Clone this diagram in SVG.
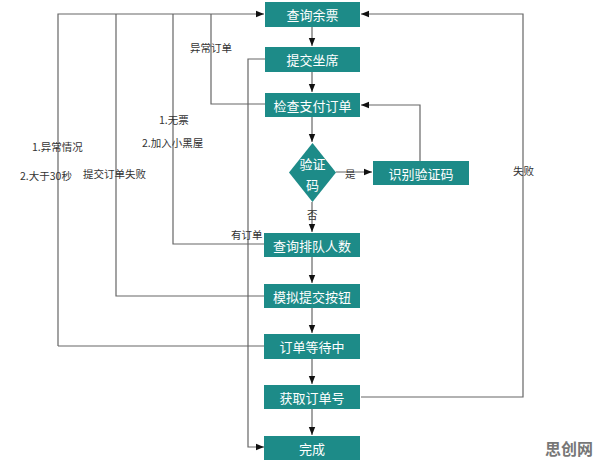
<svg xmlns="http://www.w3.org/2000/svg" width="596" height="467" viewBox="0 0 596 467">
<style>
.n{fill:#1d8b88}
.t{fill:#fff;font-family:"Noto Sans CJK SC","Noto Sans",sans-serif;font-size:13px;text-anchor:middle;dominant-baseline:central}
.l{fill:#333;font-family:"Noto Sans CJK SC","Noto Sans",sans-serif;font-size:10.5px;dominant-baseline:central}
.c{fill:none;stroke:#666;stroke-width:1.2}
</style>
<defs>
<marker id="a" viewBox="0 0 10 10" refX="10" refY="5" markerWidth="8" markerHeight="8" markerUnits="userSpaceOnUse" orient="auto">
<path d="M0,1 L10,5 L0,9 Z" fill="#111"/>
</marker>
</defs>
<rect width="596" height="467" fill="#fff"/>
<g id="connectors">
<path class="c" d="M58,346 V14 H264" marker-end="url(#a)"/>
<path class="c" d="M264,346 H58"/>
<path class="c" d="M264,296 H116 V14"/>
<path class="c" d="M264,244 H173 V14"/>
<path class="c" d="M265,104 H211 V14"/>
<path class="c" d="M265,59 H248 V447 H264" marker-end="url(#a)"/>
<path class="c" d="M361,397 H523 V14 H361" marker-end="url(#a)"/>
<path class="c" d="M420,161 V105 H361" marker-end="url(#a)"/>
<path class="c" d="M336,172 H372" marker-end="url(#a)"/>
<path class="c" d="M312,27 V46" marker-end="url(#a)"/>
<path class="c" d="M312,72 V92" marker-end="url(#a)"/>
<path class="c" d="M312,117 V142" marker-end="url(#a)"/>
<path class="c" d="M312,202 V232" marker-end="url(#a)"/>
<path class="c" d="M312,257 V283" marker-end="url(#a)"/>
<path class="c" d="M312,308 V333" marker-end="url(#a)"/>
<path class="c" d="M312,359 V384" marker-end="url(#a)"/>
<path class="c" d="M312,409 V435" marker-end="url(#a)"/>
<text class="l" x="190" y="47">异常订单</text>
<text class="l" x="159" y="119">1.无票</text>
<text class="l" x="142" y="142">2.加入小黑屋</text>
<text class="l" x="32" y="146">1.异常情况</text>
<text class="l" x="20" y="175">2.大于30秒</text>
<text class="l" x="83" y="173">提交订单失败</text>
<text class="l" x="231" y="234">有订单</text>
<text class="l" x="513" y="170">失败</text>
<text class="l" x="345" y="173">是</text>
<text class="l" x="307" y="214">否</text>
</g>
<g id="n1"><rect class="n" x="265" y="2" width="95" height="25"/><text class="t" x="312.5" y="14.5">查询余票</text></g>
<g id="n2"><rect class="n" x="265" y="47" width="95" height="25"/><text class="t" x="312.5" y="59.5">提交坐席</text></g>
<g id="n3"><rect class="n" x="265" y="93" width="95" height="24"/><text class="t" x="312.5" y="105">检查支付订单</text></g>
<g id="n4"><polygon class="n" points="312.5,143 336,172.5 312.5,202 289,172.5"/><text class="t" x="312.5" y="163">验证</text><text class="t" x="312.5" y="184">码</text></g>
<g id="n5"><rect class="n" x="373" y="161" width="96" height="24"/><text class="t" x="421" y="173">识别验证码</text></g>
<g id="n6"><rect class="n" x="264" y="233" width="96" height="24"/><text class="t" x="312" y="245">查询排队人数</text></g>
<g id="n7"><rect class="n" x="264" y="284" width="96" height="24"/><text class="t" x="312" y="296">模拟提交按钮</text></g>
<g id="n8"><rect class="n" x="264" y="334" width="96" height="25"/><text class="t" x="312" y="346.5">订单等待中</text></g>
<g id="n9"><rect class="n" x="264" y="385" width="96" height="24"/><text class="t" x="312" y="397">获取订单号</text></g>
<g id="n10"><rect class="n" x="264" y="436" width="96" height="24"/><text class="t" x="312" y="448">完成</text></g>
<text x="545" y="455" fill="#777" font-family="'Noto Sans CJK SC','Noto Sans',sans-serif" font-size="16" font-weight="bold">思创网</text>
</svg>
